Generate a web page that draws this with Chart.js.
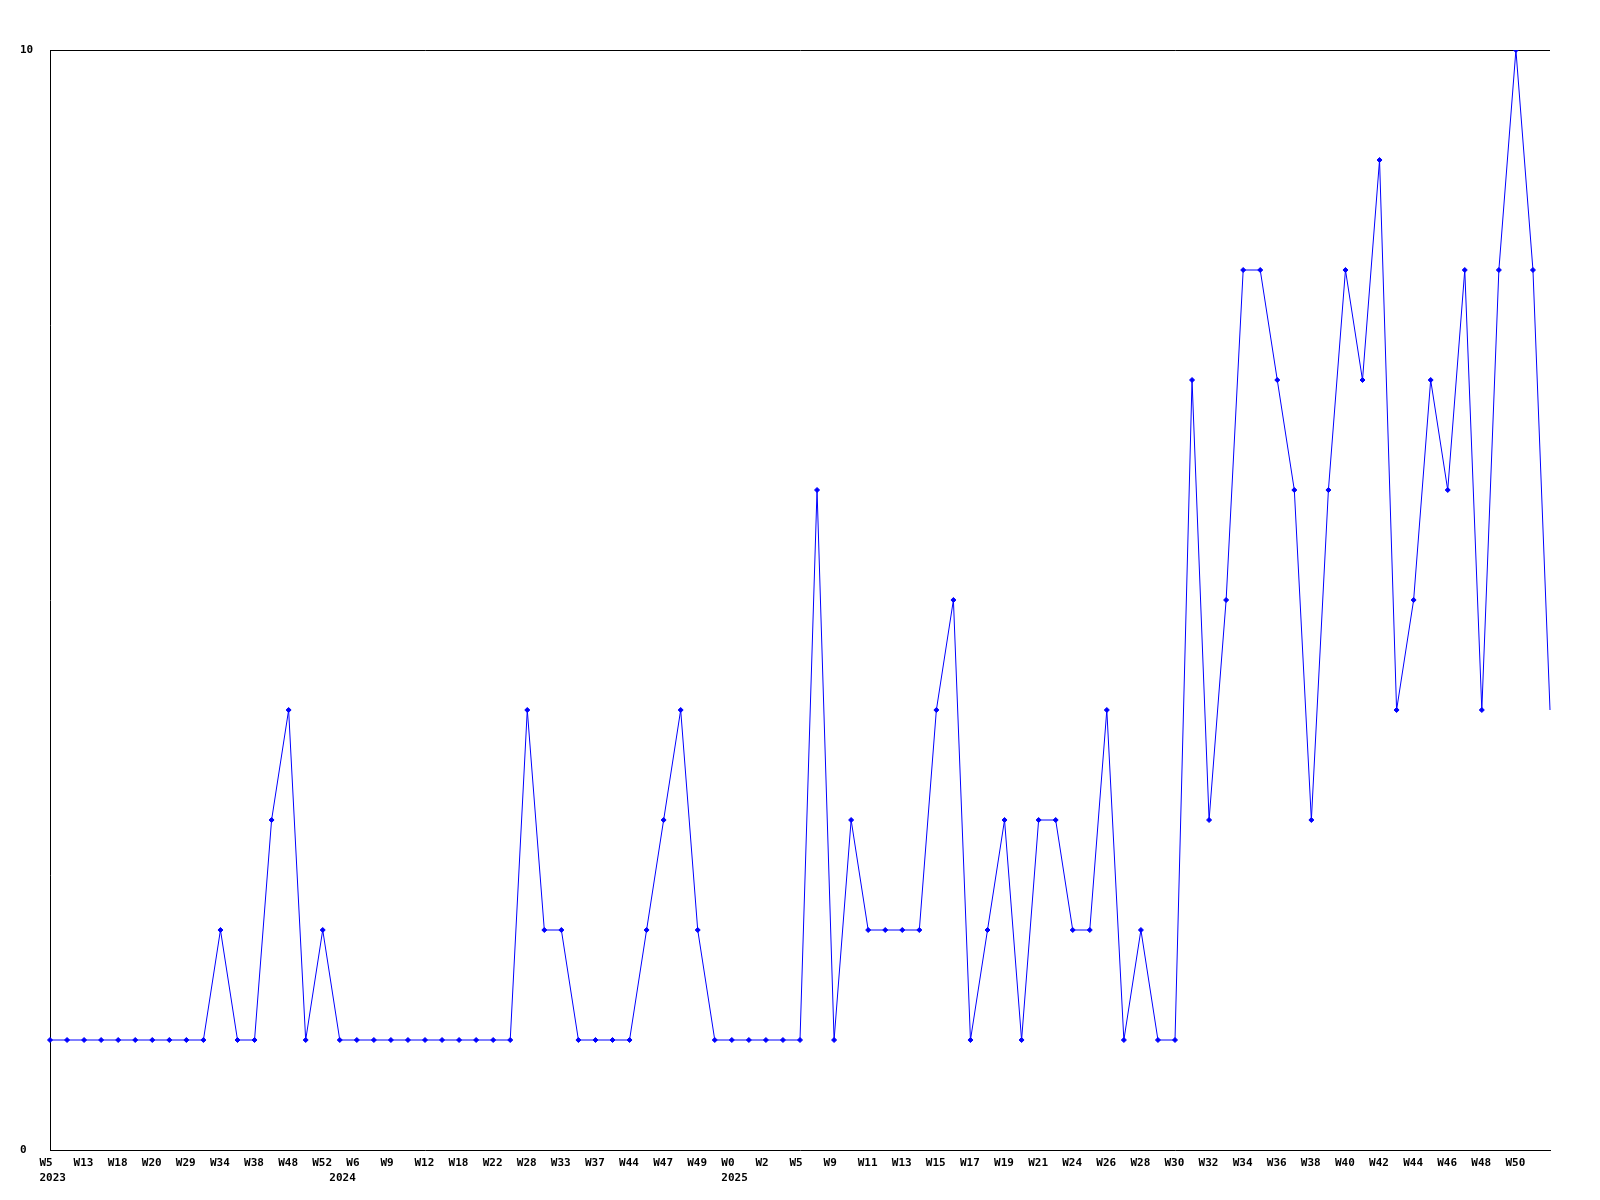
<!DOCTYPE html>
<html>
<head>
<meta charset="utf-8">
<script src="https://cdn.jsdelivr.net/npm/chart.js@4/dist/chart.umd.min.js"></script>
<style>
  html, body { margin: 0; padding: 0; background: #fff; }
  #wrap { width: 1600px; height: 1200px; }
</style>
</head>
<body>
<div id="wrap"><canvas id="weekChart" width="1600" height="1200"></canvas></div>
<script>
const weeks = [
  "W5", "W9", "W13", "W16", "W18", "W19", "W20", "W25", "W29", "W31",
  "W34", "W36", "W38", "W44", "W48", "W50", "W52", "W1", "W6", "W7",
  "W9", "W10", "W12", "W15", "W18", "W20", "W22", "W25", "W28", "W30",
  "W33", "W35", "W37", "W40", "W44", "W45", "W47", "W48", "W49", "W51",
  "W0", "W1", "W2", "W3", "W5", "W7", "W9", "W10", "W11", "W12",
  "W13", "W14", "W15", "W16", "W17", "W18", "W19", "W20", "W21", "W22",
  "W24", "W25", "W26", "W27", "W28", "W29", "W30", "W31", "W32", "W33",
  "W34", "W35", "W36", "W37", "W38", "W39", "W40", "W41", "W42", "W43",
  "W44", "W45", "W46", "W47", "W48", "W49", "W50", "W51", "W52"
];

const years = [
  2023, 2023, 2023, 2023, 2023, 2023, 2023, 2023, 2023, 2023,
  2023, 2023, 2023, 2023, 2023, 2023, 2023, 2024, 2024, 2024,
  2024, 2024, 2024, 2024, 2024, 2024, 2024, 2024, 2024, 2024,
  2024, 2024, 2024, 2024, 2024, 2024, 2024, 2024, 2024, 2024,
  2025, 2025, 2025, 2025, 2025, 2025, 2025, 2025, 2025, 2025,
  2025, 2025, 2025, 2025, 2025, 2025, 2025, 2025, 2025, 2025,
  2025, 2025, 2025, 2025, 2025, 2025, 2025, 2025, 2025, 2025,
  2025, 2025, 2025, 2025, 2025, 2025, 2025, 2025, 2025, 2025,
  2025, 2025, 2025, 2025, 2025, 2025, 2025, 2025, 2025
];

const counts = [
  1, 1, 1, 1, 1, 1, 1, 1, 1, 1,
  2, 1, 1, 3, 4, 1, 2, 1, 1, 1,
  1, 1, 1, 1, 1, 1, 1, 1, 4, 2,
  2, 1, 1, 1, 1, 2, 3, 4, 2, 1,
  1, 1, 1, 1, 1, 6, 1, 3, 2, 2,
  2, 2, 4, 5, 1, 2, 3, 1, 3, 3,
  2, 2, 4, 1, 2, 1, 1, 7, 3, 5,
  8, 8, 7, 6, 3, 6, 8, 7, 9, 4,
  5, 7, 6, 8, 4, 8, 10, 8, 4
];

const yTicks = [0, 10];

const fontSpec = { family: "'DejaVu Sans Mono', monospace", size: 11, weight: "bold", lineHeight: 1.35 };

const ctx = document.getElementById("weekChart").getContext("2d");

new Chart(ctx, {
  type: "line",
  data: {
    labels: weeks,
    datasets: [
      {
        data: counts,
        borderColor: "rgb(0, 0, 255)",
        backgroundColor: "rgb(0, 0, 255)",
        borderWidth: 1,
        tension: 0,
        pointStyle: "rectRot",
        pointRadius: counts.map((v, i) => (i === counts.length - 1 ? 0 : 2.5)),
        pointBorderWidth: 1,
      },
    ],
  },
  options: {
    responsive: false,
    animation: false,
    events: [],
    layout: { padding: { left: 20, top: 50, right: 50, bottom: 0 } },
    plugins: {
      legend: { display: false },
      title: { display: false },
      tooltip: { enabled: false },
    },
    scales: {
      x: {
        offset: false,
        grid: { display: false, drawTicks: false },
        border: { display: true, color: "#000", width: 1 },
        afterFit: (scale) => { scale.height = 50; },
        ticks: {
          autoSkip: false,
          maxRotation: 0,
          minRotation: 0,
          align: "start",
          labelOffset: -10.5,
          padding: 6,
          color: "#000",
          font: fontSpec,
          callback: function (value, i) {
            const wk = i % 2 === 0 && i < weeks.length - 1 ? weeks[i] : "";
            const yr = i === 0 || years[i] !== years[i - 1] ? String(years[i]) : "";
            return [wk, yr];
          },
        },
      },
      y: {
        min: 0,
        max: 10,
        afterFit: (scale) => { scale.width = 30; },
        afterBuildTicks: (scale) => { scale.ticks = yTicks.map((v) => ({ value: v })); },
        grid: {
          drawTicks: false,
          color: (c) => (c.tick && c.tick.value === 10 ? "#000" : "rgba(0,0,0,0)"),
          lineWidth: 1,
        },
        border: { display: true, color: "#000", width: 1 },
        ticks: {
          crossAlign: "far",
          padding: 0,
          color: "#000",
          font: fontSpec,
        },
      },
    },
  },
});
</script>
</body>
</html>
